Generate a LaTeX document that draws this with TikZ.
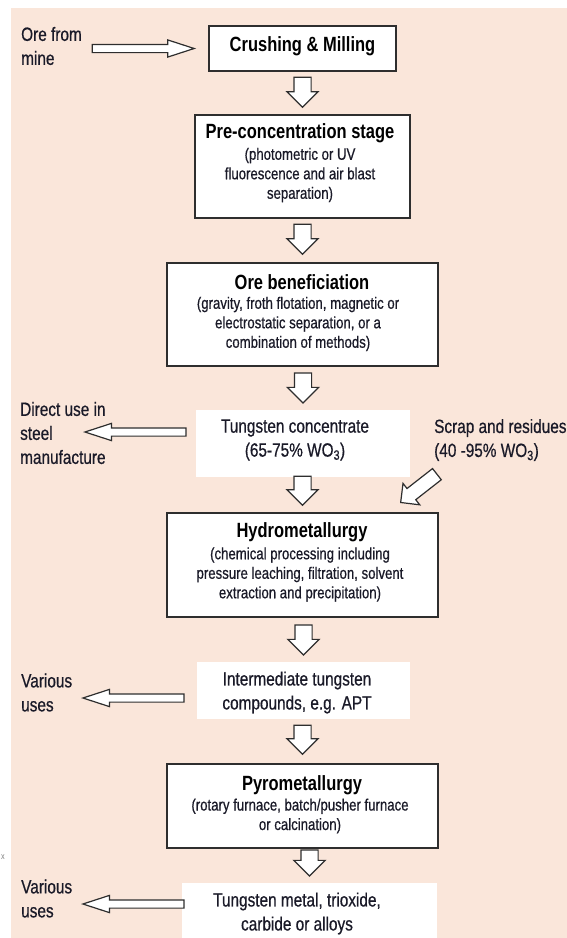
\documentclass[tikz,border=0pt]{standalone}
\usepackage{fontspec}
\setmainfont{Liberation Sans}[FakeStretch=0.8]
\newfontfamily\heavyreg{Liberation Sans}[FakeStretch=0.8, FakeBold=0.6]
\usetikzlibrary{shapes.arrows,calc}
\definecolor{bgpeach}{HTML}{FAE6DA}
\definecolor{ink}{HTML}{1A1A28}
\definecolor{edge}{HTML}{2E2E2E}
\newcommand\ttlf{\fontsize{20.6}{22}\selectfont\bfseries}
\newcommand\bdyf{\heavyreg\fontsize{16.5}{19.5}\selectfont}
\newcommand\sidf{\heavyreg\fontsize{19.2}{24}\selectfont}
\tikzset{
  stagebox/.style={draw=edge, line width=1.8pt, fill=white, inner sep=0pt},
  plainbox/.style={fill=white, inner sep=0pt},
  ttl/.style={font=\ttlf, text=black, inner sep=0pt, align=center},
  bdy/.style={font=\bdyf, text=ink, inner sep=0pt, align=center},
  mid/.style={font=\sidf, text=ink, inner sep=0pt, align=center},
  sid/.style={font=\sidf, text=ink, inner sep=0pt, align=left, anchor=west},
  downarr/.style={single arrow, draw=edge, fill=white, line width=1.2pt, rotate=-90,
    inner sep=8pt, single arrow head extend=7pt, minimum width=30pt, minimum height=30pt,
    single arrow tip angle=90, anchor=tip},
  sidearr/.style={single arrow, draw=edge, fill=white, line width=1.2pt,
    inner sep=3.5pt, single arrow head extend=4.5pt, minimum width=16pt, minimum height=101pt,
    single arrow tip angle=36, anchor=tip},
}
\begin{document}
\begin{tikzpicture}[x=1pt,y=-1pt]
\useasboundingbox (0,0) rectangle (567,938);
\fill[white] (0,0) rectangle (567,938);
\fill[bgpeach] (11,8) rectangle (567,938);
\node[font=\fontsize{9}{10}\selectfont, text=gray, inner sep=0pt] (stray) at (3,857) {x};

% boxes
\node[stagebox, minimum width=187pt, minimum height=45pt] (crush) at (302.5,48.5) {};
\node[stagebox, minimum width=215pt, minimum height=103pt] (pre) at (302.5,166.5) {};
\node[stagebox, minimum width=271pt, minimum height=103pt] (ore) at (302.5,314.5) {};
\node[plainbox, minimum width=214pt, minimum height=67pt] (tung) at (303,443.5) {};
\node[stagebox, minimum width=271pt, minimum height=104pt] (hydro) at (302.5,565) {};
\node[plainbox, minimum width=213pt, minimum height=57pt] (inter) at (303.5,690.5) {};
\node[stagebox, minimum width=271pt, minimum height=84pt] (pyro) at (302.5,806) {};
\node[plainbox, minimum width=255pt, minimum height=55pt] (final) at (309.5,910.5) {};

% box texts
\node[ttl] (crushT) at (302.5,46) {Crushing \& Milling};
\node[ttl] (preT) at (300,133) {Pre-concentration stage};
\node[bdy] (preB) at (300,175) {(photometric or UV\\fluorescence and air blast\\separation)};
\node[ttl] (oreT) at (302,282) {Ore beneficiation};
\node[bdy] (oreB) at (298,324) {(gravity, froth flotation, magnetic or\\electrostatic separation, or a\\combination of methods)};
\node[mid] (tungT) at (295,440) {Tungsten concentrate\\(65-75\% WO\textsubscript{3})};
\node[ttl] (hydroT) at (302,532) {Hydrometallurgy};
\node[bdy] (hydroB) at (300,574.5) {(chemical processing including\\pressure leaching, filtration, solvent\\extraction and precipitation)};
\node[mid] (interT) at (297,692.5) {Intermediate tungsten\\compounds, e.g. APT};
\node[ttl] (pyroT) at (302,785) {Pyrometallurgy};
\node[bdy] (pyroB) at (300,816) {(rotary furnace, batch/pusher furnace\\or calcination)};
\node[mid] (finalT) at (297,913.5) {Tungsten metal, trioxide,\\carbide or alloys};

% side texts
\node[sid] (oreIn) at (21,46) {Ore from\\mine};
\node[sid] (direct) at (20,433) {Direct use in\\steel\\manufacture};
\node[sid] (scrap) at (434,440) {Scrap and residues\\(40 -95\% WO\textsubscript{3})};
\node[sid] (var1) at (21,692.5) {Various\\uses};
\node[sid] (var2) at (21,898.5) {Various\\uses};

% down block arrows
\node[downarr] (a1) at ([yshift=6pt]pre.north) {};
\node[downarr] (a2) at ([yshift=7pt]ore.north) {};
\node[downarr] (a3) at ([yshift=6pt]tung.north) {};
\node[downarr, minimum height=29pt] (a4) at ([yshift=6pt]hydro.north) {};
\node[downarr] (a5) at ([yshift=6pt]inter.north) {};
\node[downarr, minimum height=29pt] (a6) at ([yshift=8pt]pyro.north) {};
\node[downarr, minimum height=26pt] (a7) at ([yshift=6pt]final.north) {};

% side block arrows
\node[sidearr, minimum height=102pt] (inArr) at ([xshift=-12pt]crush.west) {};
\node[sidearr, rotate=180] (dirArr) at (83,432) {};
\node[sidearr, rotate=180] (v1Arr) at (81,698) {};
\node[sidearr, rotate=180] (v2Arr) at (81,904) {};

% scrap diagonal arrow
\node[single arrow, draw=edge, fill=white, line width=1.2pt, rotate=218,
  inner sep=6.5pt, single arrow head extend=6.5pt, minimum width=26pt, minimum height=46pt,
  single arrow tip angle=90, anchor=tip] (scrapArr) at (400,503) {};
\end{tikzpicture}
\end{document}
